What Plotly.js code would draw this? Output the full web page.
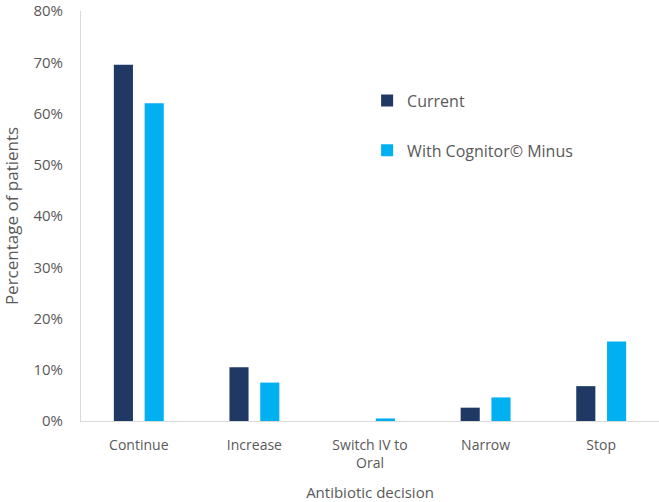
<!DOCTYPE html>
<html>
<head>
<meta charset="utf-8">
<script src="https://cdn.plot.ly/plotly-3.0.1.min.js"></script>
<style>html,body{margin:0;padding:0;background:#fff;}#chart{width:659px;height:502px;}</style>
</head>
<body>
<div id="chart"></div>
<script>
const categories = ["Continue", "Increase", "Switch IV to<br>Oral", "Narrow", "Stop"];
const currentValues = [0.695, 0.105, 0.0, 0.026, 0.068];
const cognitorValues = [0.62, 0.075, 0.005, 0.046, 0.155];
const seriesNames = ["Current", "With Cognitor© Minus"];
const yTickVals = [0, 0.1, 0.2, 0.3, 0.4, 0.5, 0.6, 0.7, 0.8];

const fontFam = "Open Sans, Liberation Sans, sans-serif";
const textColor = "#595959";

const data = [
  {type: "bar", x: categories, y: currentValues, name: seriesNames[0], legendgroup: "a",
   marker: {color: "#1F3864"}, hoverinfo: "skip"},
  {type: "bar", x: categories, y: cognitorValues, name: seriesNames[1], legendgroup: "b",
   marker: {color: "#00B0F0"}, hoverinfo: "skip"}
];

const layout = {
  width: 659, height: 502,
  margin: {l: 81, r: 0, t: 11, b: 81},
  paper_bgcolor: "#fff", plot_bgcolor: "#fff",
  barmode: "group", bargap: 0.467, bargroupgap: 0.38,
  font: {family: fontFam, size: 14, color: textColor},
  showlegend: true,
  legend: {x: 0.495, y: 0.823, xanchor: "left", yanchor: "top", traceorder: "grouped",
           tracegroupgap: 26, font: {family: fontFam, size: 16, color: textColor},
           bgcolor: "rgba(0,0,0,0)", itemwidth: 30},
  xaxis: {type: "category", showgrid: false, zeroline: false, showline: true,
          linecolor: "#D9D9D9", linewidth: 1, ticks: "", ticklabelstandoff: 11,
          automargin: false,
          tickfont: {family: fontFam, size: 14, color: textColor},
          title: {text: "Antibiotic decision", standoff: 17, font: {family: fontFam, size: 15, color: textColor}}},
  yaxis: {range: [0, 0.8], tickvals: yTickVals, tickformat: ".0%", showgrid: false,
          zeroline: false, showline: true, linecolor: "#D9D9D9", linewidth: 1, ticks: "",
          ticklabelstandoff: 14, ticklabeloverflow: "allow", automargin: false,
          tickfont: {family: fontFam, size: 15, color: textColor},
          title: {text: "Percentage of patients", standoff: 15, font: {family: fontFam, size: 17, color: textColor}}}
};

Plotly.newPlot("chart", data, layout, {displayModeBar: false, staticPlot: true});
</script>
</body>
</html>
